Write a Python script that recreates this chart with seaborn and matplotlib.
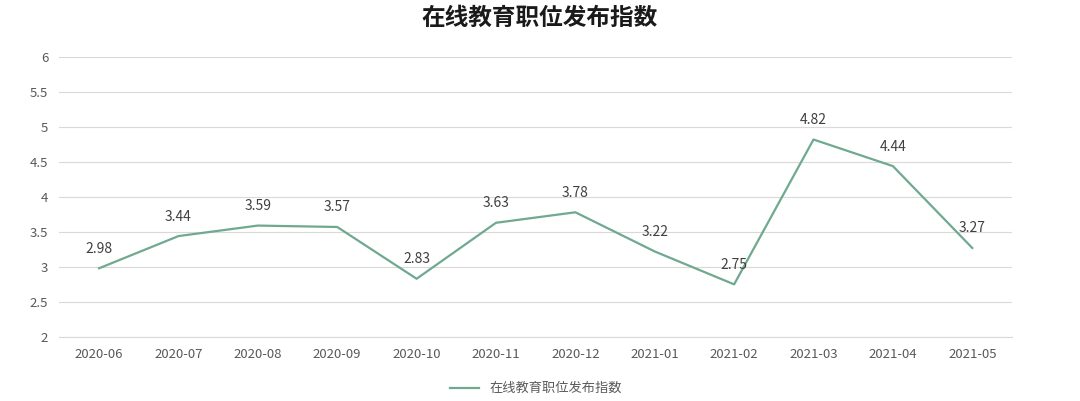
import matplotlib.pyplot as plt
import seaborn as sns
import pandas as pd

months = ["2020-06", "2020-07", "2020-08", "2020-09", "2020-10", "2020-11",
          "2020-12", "2021-01", "2021-02", "2021-03", "2021-04", "2021-05"]
index_values = [2.98, 3.44, 3.59, 3.57, 2.83, 3.63, 3.78, 3.22, 2.75, 4.82, 4.44, 3.27]
series_name = "在线教育职位发布指数"

plt.rcParams["font.family"] = "sans-serif"
plt.rcParams["font.sans-serif"] = ["Noto Sans CJK SC", "Noto Sans CJK JP",
                                   "Noto Sans CJK TC", "Noto Sans CJK KR", "DejaVu Sans"]
df = pd.DataFrame({"month": months, "value": index_values})
df["pos"] = range(len(df))

fig = plt.figure(figsize=(10.8, 4.01), dpi=100)
ax = fig.add_axes([0.055, 0.16, 0.882, 0.698])
color = "#6FA98F"
sns.lineplot(data=df, x="pos", y="value", ax=ax, color=color, linewidth=1.6, label=series_name)

for x, y in zip(df["pos"], df["value"]):
    ax.annotate(f"{y:.2f}", (x, y), xytext=(0, 9), textcoords="offset points",
                ha="center", va="bottom", fontsize=10, color="#404040")

ax.set_xlim(-0.5, 11.5)
ax.set_ylim(2, 6)
ax.set_xticks(df["pos"])
ax.set_xticklabels(months)
ax.set_yticks([2, 2.5, 3, 3.5, 4, 4.5, 5, 5.5, 6])
ax.set_yticklabels(["2", "2.5", "3", "3.5", "4", "4.5", "5", "5.5", "6"])
ax.tick_params(length=0, labelsize=9.5, colors="#595959", pad=8)
ax.grid(axis="y", color="#D9D9D9", linewidth=0.8)
ax.set_axisbelow(True)
for s in ["top", "right", "left"]:
    ax.spines[s].set_visible(False)
ax.spines["bottom"].set_color("#D9D9D9")
ax.set_xlabel("")
ax.set_ylabel("")

ax.legend(loc="upper center", bbox_to_anchor=(0.5, -0.12), frameon=False,
          fontsize=9.5, labelcolor="#595959", handlelength=2.2)
fig.suptitle(series_name, y=0.985, fontsize=17, fontweight="bold", color="#1a1a1a")
fig.savefig("out.png", dpi=100)
